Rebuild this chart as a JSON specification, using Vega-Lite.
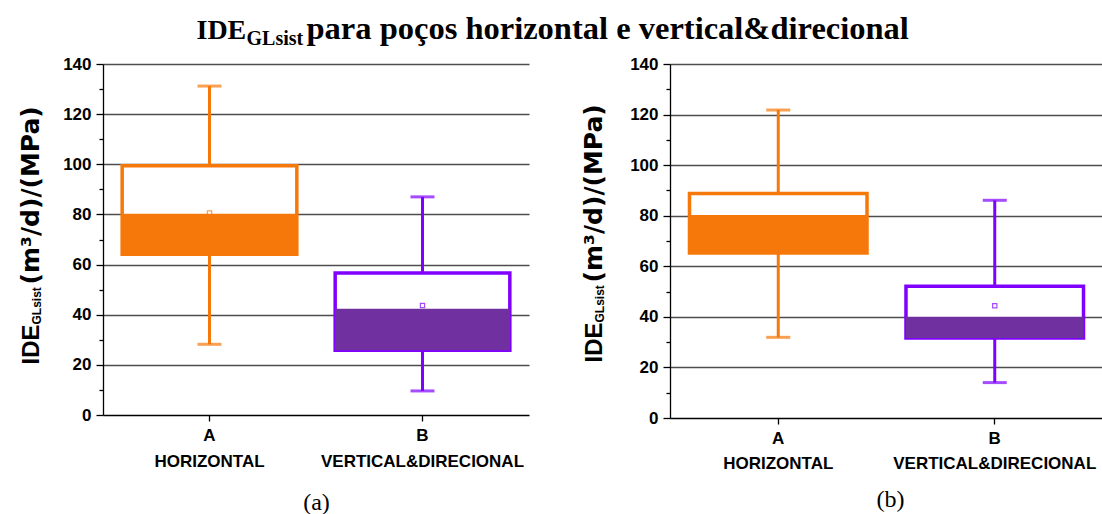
{
  "$schema": "https://vega.github.io/schema/vega-lite/v6.json",
  "padding": {"left": 18, "top": 12, "right": 0, "bottom": 0},
  "background": "white",
  "config": {
    "view": {"stroke": null},
    "axis": {"labelColor": "#000", "titleColor": "#000", "domainColor": "#000", "tickColor": "#000"}
  },
  "datasets": {
    "box": [
      {"painel": "a", "tipo": "HORIZONTAL", "min": 28.2, "q1": 64.1, "mediana": 80.3, "q3": 99.4, "max": 131.2, "media": 80.6},
      {"painel": "a", "tipo": "VERTICAL&DIRECIONAL", "min": 9.6, "q1": 25.8, "mediana": 42.4, "q3": 56.6, "max": 87.0, "media": 43.7},
      {"painel": "b", "tipo": "HORIZONTAL", "min": 31.9, "q1": 65.3, "mediana": 80.3, "q3": 88.8, "max": 121.8, "media": 78.0},
      {"painel": "b", "tipo": "VERTICAL&DIRECIONAL", "min": 14.0, "q1": 31.6, "mediana": 40.0, "q3": 52.1, "max": 86.1, "media": 44.4}
    ]
  },
  "data": {"name": "box"},
  "hconcat": [
    {
      "width": 426,
      "height": 351,
      "transform": [{"filter": "datum.painel === 'a'"}],
      "resolve": {"axis": {"x": "independent", "y": "independent"}},
      "layer": [
        {
          "mark": {"type": "rule", "strokeWidth": 3},
          "encoding": {
            "x": {"field": "tipo", "type": "nominal", "sort": ["HORIZONTAL", "VERTICAL&DIRECIONAL"], "scale": {"paddingInner": 0, "paddingOuter": 0},
              "axis": {"orient": "bottom", "title": "(a)", "titleFont": "Liberation Serif", "titleFontSize": 24, "titleFontWeight": "normal", "titleBaseline": "alphabetic", "titleAlign": "center", "titleX": 213, "titleY": 94,
                "labelExpr": "datum.label == 'HORIZONTAL' ? ['A', 'HORIZONTAL'] : ['B', 'VERTICAL&DIRECIONAL']",
                "labelFont": "Liberation Sans", "labelFontWeight": "bold", "labelFontSize": 17, "labelLineHeight": 26, "labelBaseline": "top", "labelAngle": 0, "labelPadding": 6, "labelLimit": 400,
                "tickSize": 6, "tickWidth": 1.3, "domainWidth": 1.3, "grid": false}},
            "y": {"field": "min", "type": "quantitative", "scale": {"domain": [0, 140], "nice": false},
              "axis": {"orient": "left", "values": [0, 10, 20, 30, 40, 50, 60, 70, 80, 90, 100, 110, 120, 130, 140],
                "labelExpr": "datum.value % 20 === 0 ? datum.label : ''",
                "labelFont": "Liberation Sans", "labelFontWeight": "bold", "labelFontSize": 17, "labelPadding": 5,
                "tickSize": {"condition": {"test": "datum.value % 20 === 0", "value": 7}, "value": 4},
                "tickWidth": 1.3, "domainWidth": 1.3,
                "grid": true, "gridColor": "#4d4d4d", "gridWidth": 1.3,
                "gridOpacity": {"condition": {"test": "datum.value % 20 === 0 && datum.value > 0", "value": 1}, "value": 0},
                "title": "IDE", "titleFont": "Liberation Sans", "titleFontWeight": "bold", "titleFontSize": 24, "titleAngle": -90, "titleAlign": "left", "titleBaseline": "alphabetic", "titleX": -65, "titleY": 300}},
            "y2": {"field": "max"},
            "color": {"field": "tipo", "type": "nominal", "scale": {"domain": ["HORIZONTAL", "VERTICAL&DIRECIONAL"], "range": ["#F7780A", "#8000FF"]}, "legend": null}
          }
        },
        {
          "mark": {"type": "tick", "thickness": 3, "size": 24},
          "encoding": {
            "x": {"field": "tipo", "type": "nominal", "sort": ["HORIZONTAL", "VERTICAL&DIRECIONAL"],
              "axis": {"orient": "top", "domain": false, "ticks": false, "labels": false, "grid": false,
                "title": "IDE", "titleFont": "Liberation Serif", "titleFontWeight": "bold", "titleFontSize": 28, "titleAlign": "left", "titleBaseline": "alphabetic", "titleX": 93, "titleY": -26}},
            "y": {"field": "min", "type": "quantitative",
              "axis": {"orient": "left", "domain": false, "ticks": false, "labels": false, "grid": false,
                "title": "GLsist", "titleFont": "Liberation Sans", "titleFontWeight": "bold", "titleFontSize": 12, "titleAngle": -90, "titleAlign": "left", "titleBaseline": "alphabetic", "titleX": -63, "titleY": 260}},
            "color": {"field": "tipo", "type": "nominal", "legend": null}
          }
        },
        {
          "mark": {"type": "tick", "thickness": 3, "size": 24},
          "encoding": {
            "x": {"field": "tipo", "type": "nominal", "sort": ["HORIZONTAL", "VERTICAL&DIRECIONAL"],
              "axis": {"orient": "top", "domain": false, "ticks": false, "labels": false, "grid": false,
                "title": "GLsist", "titleFont": "Liberation Serif", "titleFontWeight": "bold", "titleFontSize": 20, "titleAlign": "left", "titleBaseline": "alphabetic", "titleX": 143, "titleY": -20}},
            "y": {"field": "max", "type": "quantitative",
              "axis": {"orient": "left", "domain": false, "ticks": false, "labels": false, "grid": false,
                "title": "(m³/d)/(MPa)", "titleFont": "DejaVu Sans", "titleFontWeight": "bold", "titleFontSize": 25, "titleAngle": -90, "titleAlign": "left", "titleBaseline": "alphabetic", "titleX": -65, "titleY": 220}},
            "color": {"field": "tipo", "type": "nominal", "legend": null}
          }
        },
        {
          "mark": {"type": "bar", "fill": "white", "strokeWidth": 3.5, "width": {"band": 0.82}},
          "encoding": {
            "x": {"field": "tipo", "type": "nominal", "sort": ["HORIZONTAL", "VERTICAL&DIRECIONAL"],
              "axis": {"orient": "top", "domain": false, "ticks": false, "labels": false, "grid": false,
                "title": "para poços horizontal e vertical&direcional", "titleFont": "Liberation Serif", "titleFontWeight": "bold", "titleFontSize": 32.5, "titleAlign": "left", "titleBaseline": "alphabetic", "titleX": 203, "titleY": -26}},
            "y": {"field": "q1", "type": "quantitative", "axis": null},
            "y2": {"field": "q3"},
            "stroke": {"field": "tipo", "type": "nominal", "scale": {"domain": ["HORIZONTAL", "VERTICAL&DIRECIONAL"], "range": ["#F7780A", "#8000FF"]}, "legend": null}
          }
        },
        {
          "mark": {"type": "point", "shape": "square", "size": 18, "filled": false, "strokeWidth": 1.2},
          "encoding": {
            "x": {"field": "tipo", "type": "nominal", "sort": ["HORIZONTAL", "VERTICAL&DIRECIONAL"], "axis": null},
            "y": {"field": "media", "type": "quantitative", "axis": null},
            "stroke": {"field": "tipo", "type": "nominal", "legend": null}
          }
        },
        {
          "mark": {"type": "bar", "strokeWidth": 0, "width": {"band": 0.82}},
          "encoding": {
            "x": {"field": "tipo", "type": "nominal", "sort": ["HORIZONTAL", "VERTICAL&DIRECIONAL"], "axis": null},
            "y": {"field": "q1", "type": "quantitative", "axis": null},
            "y2": {"field": "mediana"},
            "fill": {"field": "tipo", "type": "nominal", "scale": {"domain": ["HORIZONTAL", "VERTICAL&DIRECIONAL"], "range": ["#F7780A", "#7030A0"]}, "legend": null}
          }
        }
      ]
    },
    {
      "width": 433,
      "height": 354,
      "transform": [{"filter": "datum.painel === 'b'"}],
      "resolve": {"axis": {"x": "independent", "y": "independent"}},
      "layer": [
        {
          "mark": {"type": "rule", "strokeWidth": 3},
          "encoding": {
            "x": {"field": "tipo", "type": "nominal", "sort": ["HORIZONTAL", "VERTICAL&DIRECIONAL"], "scale": {"paddingInner": 0, "paddingOuter": 0},
              "axis": {"orient": "bottom", "title": "(b)", "titleFont": "Liberation Serif", "titleFontSize": 24, "titleFontWeight": "normal", "titleBaseline": "alphabetic", "titleAlign": "center", "titleX": 220, "titleY": 88,
                "labelExpr": "datum.label == 'HORIZONTAL' ? ['A', 'HORIZONTAL'] : ['B', 'VERTICAL&DIRECIONAL']",
                "labelFont": "Liberation Sans", "labelFontWeight": "bold", "labelFontSize": 17, "labelLineHeight": 25, "labelBaseline": "top", "labelAngle": 0, "labelPadding": 6, "labelLimit": 400,
                "tickSize": 6, "tickWidth": 1.3, "domainWidth": 1.3, "grid": false}},
            "y": {"field": "min", "type": "quantitative", "scale": {"domain": [0, 140], "nice": false},
              "axis": {"orient": "left", "values": [0, 10, 20, 30, 40, 50, 60, 70, 80, 90, 100, 110, 120, 130, 140],
                "labelExpr": "datum.value % 20 === 0 ? datum.label : ''",
                "labelFont": "Liberation Sans", "labelFontWeight": "bold", "labelFontSize": 17, "labelPadding": 5,
                "tickSize": {"condition": {"test": "datum.value % 20 === 0", "value": 7}, "value": 4},
                "tickWidth": 1.3, "domainWidth": 1.3,
                "grid": true, "gridColor": "#4d4d4d", "gridWidth": 1.3,
                "gridOpacity": {"condition": {"test": "datum.value % 20 === 0 && datum.value > 0", "value": 1}, "value": 0},
                "title": "IDE", "titleFont": "Liberation Sans", "titleFontWeight": "bold", "titleFontSize": 24, "titleAngle": -90, "titleAlign": "left", "titleBaseline": "alphabetic", "titleX": -69, "titleY": 298}},
            "y2": {"field": "max"},
            "color": {"field": "tipo", "type": "nominal", "scale": {"domain": ["HORIZONTAL", "VERTICAL&DIRECIONAL"], "range": ["#F7780A", "#8000FF"]}, "legend": null}
          }
        },
        {
          "mark": {"type": "tick", "thickness": 3, "size": 24},
          "encoding": {
            "x": {"field": "tipo", "type": "nominal", "sort": ["HORIZONTAL", "VERTICAL&DIRECIONAL"], "axis": null},
            "y": {"field": "min", "type": "quantitative",
              "axis": {"orient": "left", "domain": false, "ticks": false, "labels": false, "grid": false,
                "title": "GLsist", "titleFont": "Liberation Sans", "titleFontWeight": "bold", "titleFontSize": 12, "titleAngle": -90, "titleAlign": "left", "titleBaseline": "alphabetic", "titleX": -67, "titleY": 258}},
            "color": {"field": "tipo", "type": "nominal", "legend": null}
          }
        },
        {
          "mark": {"type": "tick", "thickness": 3, "size": 24},
          "encoding": {
            "x": {"field": "tipo", "type": "nominal", "sort": ["HORIZONTAL", "VERTICAL&DIRECIONAL"], "axis": null},
            "y": {"field": "max", "type": "quantitative",
              "axis": {"orient": "left", "domain": false, "ticks": false, "labels": false, "grid": false,
                "title": "(m³/d)/(MPa)", "titleFont": "DejaVu Sans", "titleFontWeight": "bold", "titleFontSize": 25, "titleAngle": -90, "titleAlign": "left", "titleBaseline": "alphabetic", "titleX": -69, "titleY": 218}},
            "color": {"field": "tipo", "type": "nominal", "legend": null}
          }
        },
        {
          "mark": {"type": "bar", "fill": "white", "strokeWidth": 3.5, "width": {"band": 0.82}},
          "encoding": {
            "x": {"field": "tipo", "type": "nominal", "sort": ["HORIZONTAL", "VERTICAL&DIRECIONAL"], "axis": null},
            "y": {"field": "q1", "type": "quantitative", "axis": null},
            "y2": {"field": "q3"},
            "stroke": {"field": "tipo", "type": "nominal", "scale": {"domain": ["HORIZONTAL", "VERTICAL&DIRECIONAL"], "range": ["#F7780A", "#8000FF"]}, "legend": null}
          }
        },
        {
          "mark": {"type": "point", "shape": "square", "size": 18, "filled": false, "strokeWidth": 1.2},
          "encoding": {
            "x": {"field": "tipo", "type": "nominal", "sort": ["HORIZONTAL", "VERTICAL&DIRECIONAL"], "axis": null},
            "y": {"field": "media", "type": "quantitative", "axis": null},
            "stroke": {"field": "tipo", "type": "nominal", "legend": null}
          }
        },
        {
          "mark": {"type": "bar", "strokeWidth": 0, "width": {"band": 0.82}},
          "encoding": {
            "x": {"field": "tipo", "type": "nominal", "sort": ["HORIZONTAL", "VERTICAL&DIRECIONAL"], "axis": null},
            "y": {"field": "q1", "type": "quantitative", "axis": null},
            "y2": {"field": "mediana"},
            "fill": {"field": "tipo", "type": "nominal", "scale": {"domain": ["HORIZONTAL", "VERTICAL&DIRECIONAL"], "range": ["#F7780A", "#7030A0"]}, "legend": null}
          }
        }
      ]
    }
  ],
  "spacing": 141,
  "bounds": "flush"
}
